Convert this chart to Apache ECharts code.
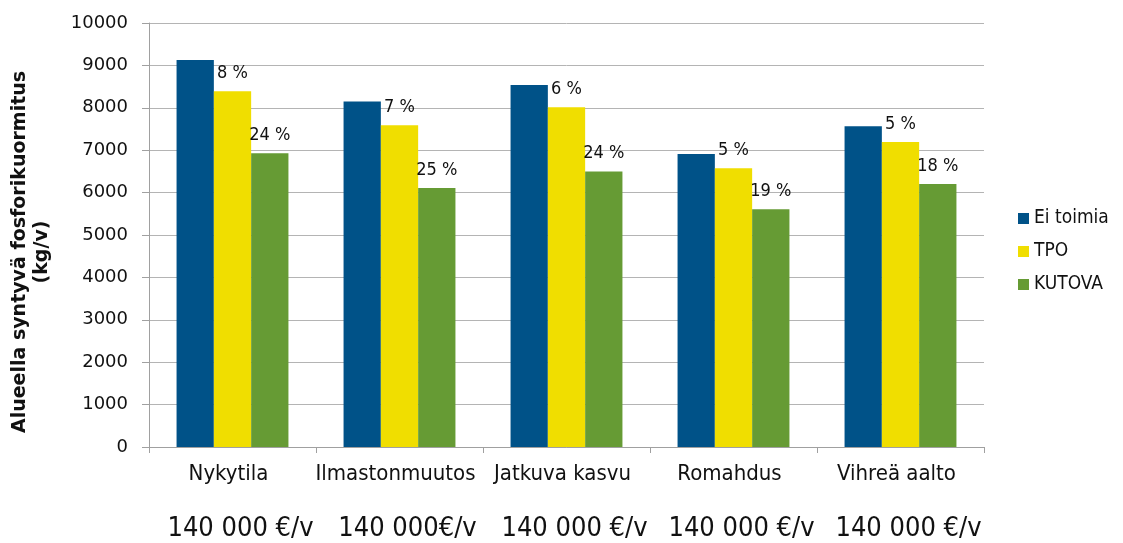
<!DOCTYPE html>
<html>
<head>
<meta charset="utf-8">
<script src="https://cdn.jsdelivr.net/npm/echarts@6/dist/echarts.min.js"></script>
<style>
  html, body { margin: 0; padding: 0; background: #fff; }
  #chart { width: 1123px; height: 543px; }
</style>
</head>
<body>
<div id="chart"></div>
<script>
// Skenaariot ja kustannukset
const categories = ['Nykytila', 'Ilmastonmuutos', 'Jatkuva kasvu', 'Romahdus', 'Vihreä aalto'];
const costs = ['140 000 €/v', '140 000€/v', '140 000 €/v', '140 000 €/v', '140 000 €/v'];

// Fosforikuormitus (kg/v)
const eiToimia = [9130, 8150, 8535, 6910, 7565];
const tpo = [8390, 7590, 8015, 6575, 7195];
const kutova = [6930, 6110, 6495, 5605, 6205];

// Vähenemä verrattuna tilanteeseen ilman toimia
const tpoPct = ['8 %', '7 %', '6 %', '5 %', '5 %'];
const kutovaPct = ['24 %', '25 %', '24 %', '19 %', '18 %'];

const yTicks = [0, 1000, 2000, 3000, 4000, 5000, 6000, 7000, 8000, 9000, 10000];

const narrow = 'DejaVu Sans Condensed';
const chart = echarts.init(document.getElementById('chart'), null, { renderer: 'canvas' });

const pctLabel = (arr) => ({
  show: true,
  position: 'top',
  distance: 9,
  color: '#111',
  fontFamily: narrow,
  fontSize: 18,
  formatter: (p) => arr[p.dataIndex]
});

chart.setOption({
  animation: false,
  backgroundColor: '#fff',
  grid: { left: 149, right: 139, top: 23, bottom: 96 },
  legend: {
    orient: 'vertical',
    left: 1013,
    top: 204,
    itemWidth: 11,
    itemHeight: 11,
    itemGap: 14,
    icon: 'rect',
    textStyle: { fontFamily: narrow, fontSize: 19, color: '#111' },
    data: ['Ei toimia', 'TPO', 'KUTOVA']
  },
  xAxis: [
    {
      type: 'category',
      data: categories,
      axisLine: { lineStyle: { color: '#a0a0a0', width: 1 } },
      axisTick: { show: true, length: 6, lineStyle: { color: '#a0a0a0' } },
      axisLabel: { interval: 0, margin: 16, color: '#111', fontFamily: narrow, fontSize: 22, padding: [0, 8, 0, 0] }
    },
    {
      type: 'category',
      position: 'bottom',
      offset: 60,
      data: costs,
      axisLine: { show: false },
      axisTick: { show: false },
      axisLabel: { interval: 0, color: '#111', fontFamily: narrow, fontSize: 27, margin: 8, padding: [0, 0, 0, 16] }
    }
  ],
  yAxis: {
    type: 'value',
    min: yTicks[0],
    max: yTicks[yTicks.length - 1],
    interval: 1000,
    name: 'Alueella syntyvä fosforikuormitus\n(kg/v)',
    nameLocation: 'middle',
    nameRotate: 90,
    nameGap: 96,
    nameTextStyle: { fontFamily: 'DejaVu Sans', fontWeight: 'bold', fontSize: 19, color: '#111', lineHeight: 22, padding: [0, 34, 0, 0] },
    axisLine: { show: true, lineStyle: { color: '#a0a0a0' } },
    axisTick: { show: true, length: 7, lineStyle: { color: '#a0a0a0' } },
    axisLabel: { margin: 21, color: '#111', fontFamily: 'DejaVu Sans', fontSize: 18, formatter: (v) => String(v) },
    splitLine: { lineStyle: { color: '#b4b4b4', width: 1 } }
  },
  series: [
    {
      name: 'Ei toimia', type: 'bar', data: eiToimia,
      barGap: '0%', barCategoryGap: '33%',
      itemStyle: { color: '#005288' }
    },
    {
      name: 'TPO', type: 'bar', data: tpo,
      itemStyle: { color: '#f0de00' },
      label: pctLabel(tpoPct)
    },
    {
      name: 'KUTOVA', type: 'bar', data: kutova,
      itemStyle: { color: '#669b34' },
      label: pctLabel(kutovaPct)
    }
  ]
});
</script>
</body>
</html>
